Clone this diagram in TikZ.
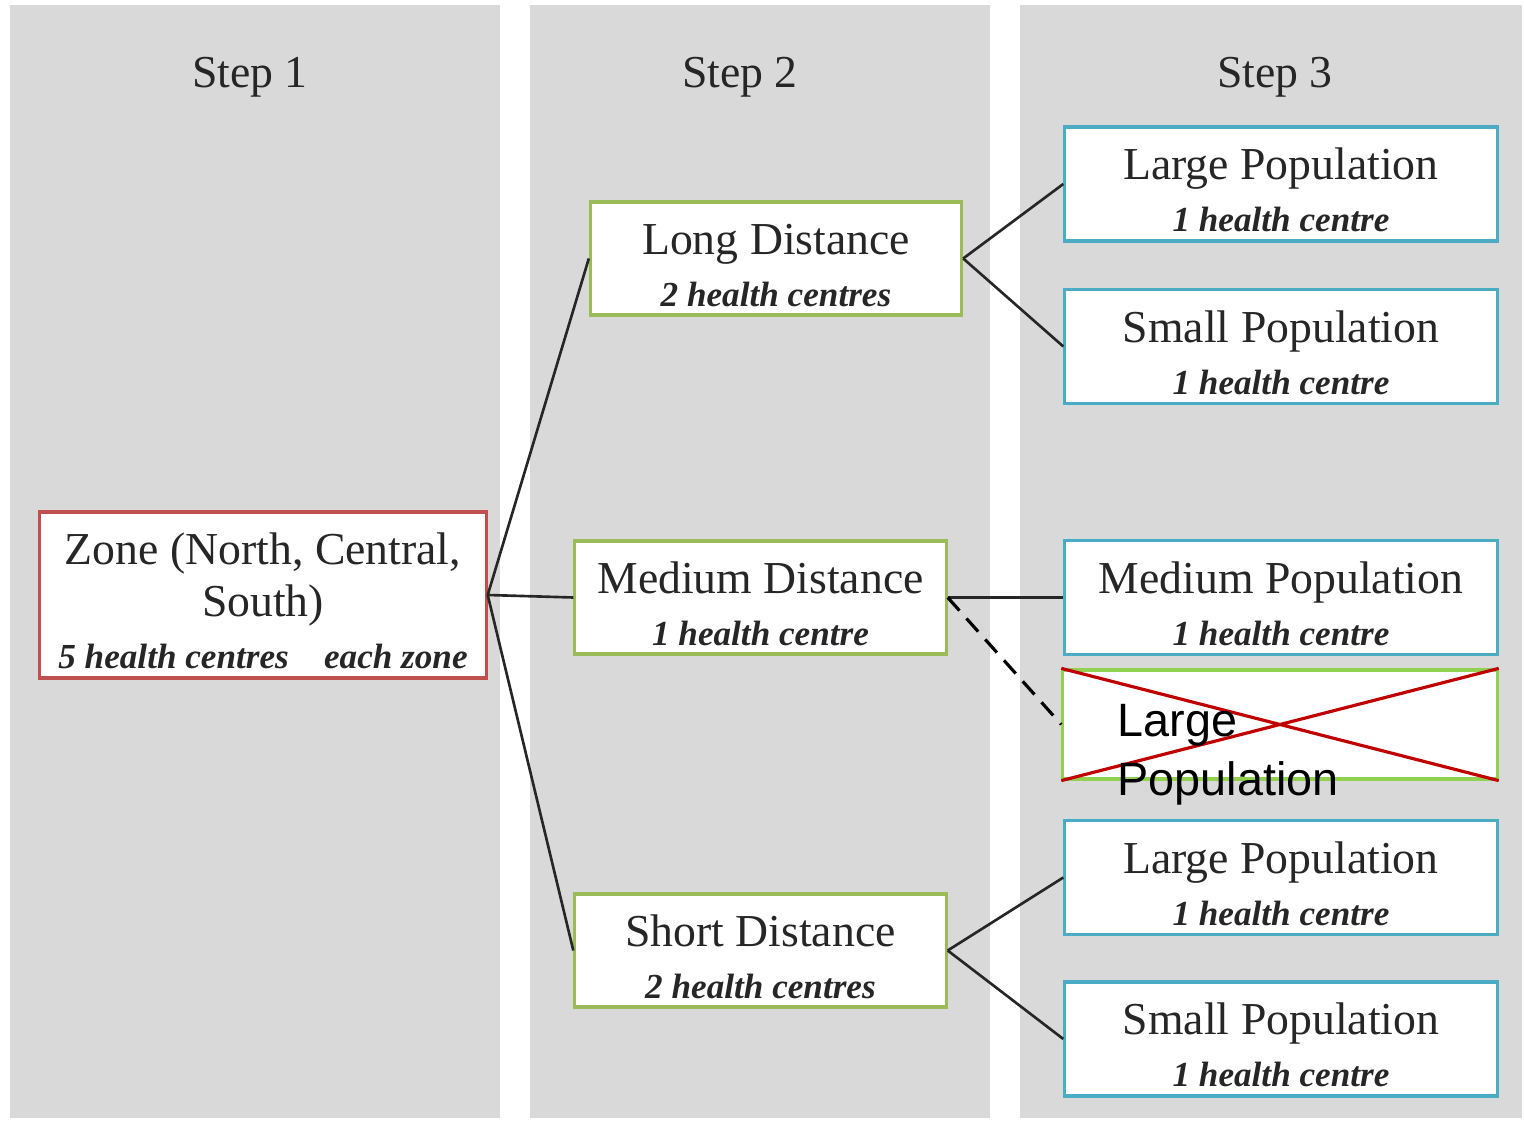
\documentclass[tikz,border=0pt]{standalone}
\usepackage{fontspec}
\setmainfont{Liberation Serif}
\newfontfamily\arialfont{Liberation Sans}
\usetikzlibrary{positioning}
\definecolor{panelgray}{HTML}{D9D9D9}
\definecolor{textgray}{HTML}{262626}
\definecolor{zonered}{HTML}{C0504D}
\definecolor{distgreen}{HTML}{9BBB59}
\definecolor{popblue}{HTML}{4BACC6}
\definecolor{crossgreen}{HTML}{92D050}
\definecolor{crossred}{HTML}{C00000}
\newcommand{\titlefont}{\fontsize{13}{14.8}\selectfont}
\newcommand{\subfont}{\fontsize{10}{12}\selectfont\bfseries\itshape}
\newcommand{\topstrut}{\rule{0pt}{12.5pt}}
\tikzset{
  panel/.style = {fill=panelgray},
  steplabel/.style = {font=\titlefont, text=textgray},
  box/.style = {draw, line width=0.9pt, fill=white, align=center, inner sep=0pt, text=textgray, font=\titlefont},
  zonebox/.style = {box, draw=zonered, minimum width=4.46cm, minimum height=1.66cm},
  distbox/.style = {box, draw=distgreen, minimum width=3.71cm, minimum height=1.13cm},
  popbox/.style = {box, draw=popblue, minimum width=4.32cm, minimum height=1.14cm},
  crossbox/.style = {draw=crossgreen, line width=0.9pt, fill=white, minimum width=4.34cm, minimum height=1.09cm},
  link/.style = {draw=black!85, line width=0.75pt},
}
\begin{document}
\begin{tikzpicture}[x=0.01cm, y=-0.01cm]
		\useasboundingbox[fill=white] (0,0) rectangle (1524,1122);
		% the three steps
		\fill[panel] (10,5) rectangle (500,1118);
		\fill[panel] (530,5) rectangle (990,1118);
		\fill[panel] (1020,5) rectangle (1522,1118);
		\node (step1) [steplabel] at (250,77) {Step 1};
		\node (step2) [steplabel] at (740,77) {Step 2};
		\node (step3) [steplabel] at (1275,77) {Step 3};
		% step 1
		\node (zone) [zonebox] at (263,595) {\topstrut Zone (North, Central,\\South)\\[0pt]{\subfont 5 health centres\quad each zone}};
		% step 2
		\node (long) [distbox] at (776,258.5) {\topstrut Long Distance\\[0pt]{\subfont 2 health centres}};
		\node (medium) [distbox] at (760.5,597.5) {\topstrut Medium Distance\\[0pt]{\subfont 1 health centre}};
		\node (short) [distbox] at (760.5,950.5) {\topstrut Short Distance\\[0pt]{\subfont 2 health centres}};
		% step 3
		\node (largeA) [popbox] at (1281,184) {\topstrut Large Population\\[0pt]{\subfont 1 health centre}};
		\node (smallA) [popbox] at (1281,346.5) {\topstrut Small Population\\[0pt]{\subfont 1 health centre}};
		\node (mediumpop) [popbox] at (1281,597.5) {\topstrut Medium Population\\[0pt]{\subfont 1 health centre}};
		\node (nolarge) [crossbox] at (1280,724.5) {};
		\draw[crossred, line width=0.9pt] (nolarge.north west) -- (nolarge.south east)
			(nolarge.south west) -- (nolarge.north east);
		\node (nolargetext) [anchor=north west, inner sep=0pt, align=left, font=\arialfont\fontsize{13.3}{16.8}\selectfont] at (1117,704) {Large\\Population};
		\node (largeB) [popbox] at (1281,877.5) {\topstrut Large Population\\[0pt]{\subfont 1 health centre}};
		\node (smallB) [popbox] at (1281,1039) {\topstrut Small Population\\[0pt]{\subfont 1 health centre}};
		% connectors
		\path[link]
		(zone.east) edge (long.west)
		(zone.east) edge (medium.west)
		(zone.east) edge (short.west)
		(long.east) edge (largeA.west)
		(long.east) edge (smallA.west)
		(medium.east) edge (mediumpop.west)
		(short.east) edge (largeB.west)
		(short.east) edge (smallB.west);
		\draw[black, line width=0.9pt, dash pattern=on 5pt off 3pt] (medium.east) -- (nolarge.west);
\end{tikzpicture}
\end{document}
